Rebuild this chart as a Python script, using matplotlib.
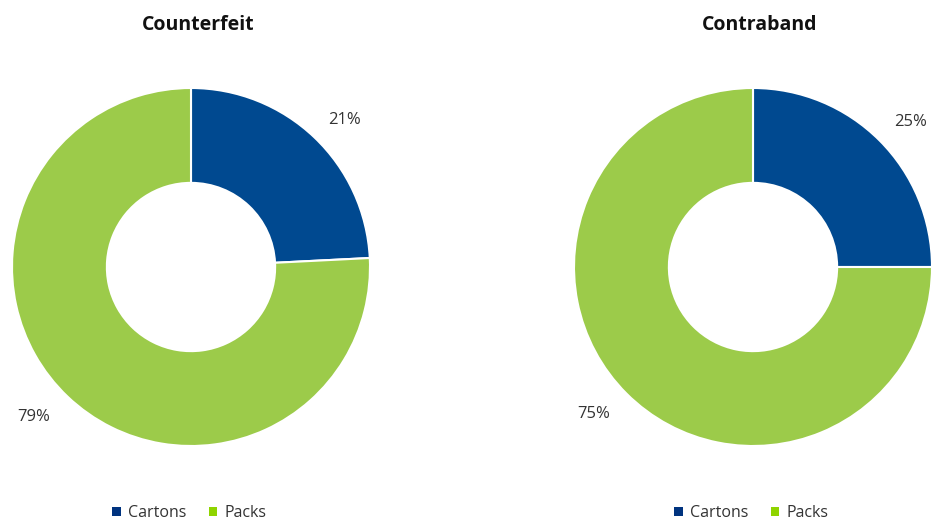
import matplotlib
matplotlib.use("Agg")
import matplotlib.pyplot as plt
from matplotlib.patches import Patch

plt.rcParams['font.family'] = ['Open Sans', 'DejaVu Sans']

titles = ["Counterfeit", "Contraband"]
categories = ["Cartons", "Packs"]
# slice sizes as drawn in the picture, and the labels printed on it
counterfeit_share = [24.2, 75.8]
counterfeit_labels = ["21%", "79%"]
contraband_share = [25, 75]
contraband_labels = ["25%", "75%"]
shares = [counterfeit_share, contraband_share]
labels = [counterfeit_labels, contraband_labels]

pie_colors = ["#004990", "#9ccb4a"]
legend_colors = ["#00337f", "#8fd400"]

W, H = 934, 523
fig = plt.figure(figsize=(W / 100, H / 100), dpi=100)

centers = [(191, 267), (753, 267)]
radius = 179
# label offsets in radius units (outside-end style labels)
label_pos = [[(0.86, 0.82), (-0.88, -0.84)], [(0.88, 0.81), (-0.89, -0.82)]]
legend_x = [112, 674]

for i, (cx, cy) in enumerate(centers):
    ax = fig.add_axes([(cx - radius) / W, (H - cy - radius) / H, 2 * radius / W, 2 * radius / H])
    ax.pie(shares[i], colors=pie_colors, startangle=90, counterclock=False, radius=1,
           wedgeprops=dict(width=0.53, edgecolor="white", linewidth=1.5))
    ax.set_xlim(-1, 1)
    ax.set_ylim(-1, 1)
    ax.set_aspect("equal")
    ax.axis("off")
    for lab, (lx, ly) in zip(labels[i], label_pos[i]):
        ax.text(lx, ly, lab, ha="center", va="center", fontsize=12, color="#333333")

    fig.text((cx + 7) / W, 1 - 25 / H, titles[i], ha="center", va="center",
             fontsize=14, fontweight="bold", color="#111111")

    handles = [Patch(facecolor=c, edgecolor="none") for c in legend_colors]
    fig.legend(handles, categories, loc="center left", ncol=2, frameon=False,
               bbox_to_anchor=(legend_x[i] / W, 1 - 513 / H), fontsize=11.5,
               handlelength=0.55, handleheight=0.55, handletextpad=0.45,
               columnspacing=1.4, borderpad=0, borderaxespad=0,
               labelcolor="#333333")

fig.savefig("out.png", dpi=100, facecolor="white")
